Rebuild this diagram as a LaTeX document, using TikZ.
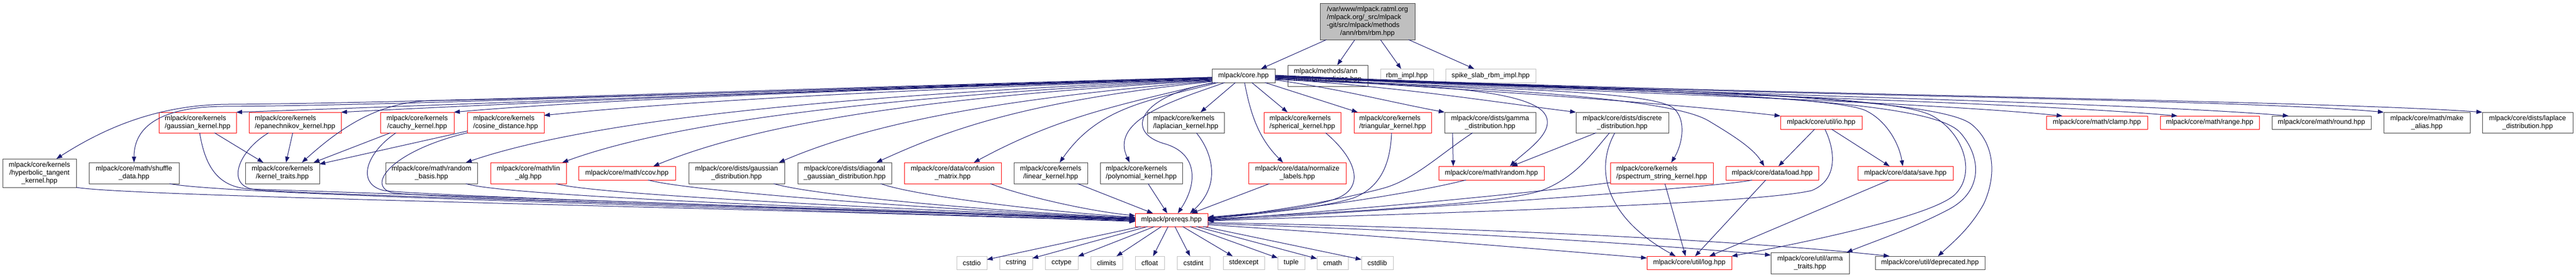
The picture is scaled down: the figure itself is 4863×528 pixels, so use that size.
\documentclass[tikz,border=0pt]{standalone}
\usepackage{fontspec}
\setmainfont{Liberation Sans}
\usetikzlibrary{arrows.meta}
\definecolor{edgec}{HTML}{191970}
\definecolor{nodeb}{HTML}{404040}
\definecolor{gry}{HTML}{BFBFBF}
\newcommand\twoL[2]{\begin{tabular}{@{}l@{}}#1\\\multicolumn{1}{@{}c@{}}{#2}\end{tabular}}
\newcommand\twoC[2]{\begin{tabular}{@{}c@{}}#1\\#2\end{tabular}}
\newcommand\mkbox[7]{\node[#1, minimum width={#5pt-#3pt}, minimum height={#6pt-#4pt}] (#2) at ({(#3+#5)/2},{(#4+#6)/2}) {#7};}
\begin{document}
\begin{tikzpicture}[x=1pt,y=-1pt,
  base/.style={rectangle, inner sep=0pt, outer sep=0pt, line width=1pt, font=\fontsize{13}{15}\selectfont, text=black},
  bk/.style={base, draw=nodeb},
  rd/.style={base, draw=red},
  gy/.style={base, draw=gry},
  gyf/.style={base, draw=nodeb, fill=gry},
  conn/.style={draw=edgec, line width=1pt, -{Triangle[length=11pt,width=8pt]}}]
\fill[white] (0,0) rectangle (4863,528);
\useasboundingbox (0,0) rectangle (4863,528);
% nodes
\mkbox{gyf}{rbm}{2492}{6}{2671}{75}{\begin{tabular}{@{}l@{}}/var/www/mlpack.ratml.org\\/mlpack.org/\_src/mlpack\\-git/src/mlpack/methods\\\multicolumn{1}{@{}c@{}}{/ann/rbm/rbm.hpp}\end{tabular}}
\mkbox{bk}{core}{2288}{130}{2407}{156}{mlpack/core.hpp}
\mkbox{bk}{pol}{2431}{123}{2582}{163}{\twoL{mlpack/methods/ann}{/rbm/rbm\_policies.hpp}}
\mkbox{gy}{impl}{2606}{130}{2706}{156}{rbm\_impl.hpp}
\mkbox{gy}{spike}{2729}{130}{2899}{156}{spike\_slab\_rbm\_impl.hpp}
% row 2
\mkbox{rd}{gk}{300}{212}{446}{251}{\twoL{mlpack/core/kernels}{/gaussian\_kernel.hpp}}
\mkbox{rd}{ep}{470}{212}{644}{251}{\twoL{mlpack/core/kernels}{/epanechnikov\_kernel.hpp}}
\mkbox{rd}{ca}{718}{212}{857}{251}{\twoL{mlpack/core/kernels}{/cauchy\_kernel.hpp}}
\mkbox{rd}{co}{882}{212}{1027}{251}{\twoL{mlpack/core/kernels}{/cosine\_distance.hpp}}
\mkbox{bk}{lap}{2166}{212}{2311}{251}{\twoL{mlpack/core/kernels}{/laplacian\_kernel.hpp}}
\mkbox{rd}{sph}{2386}{212}{2531}{251}{\twoL{mlpack/core/kernels}{/spherical\_kernel.hpp}}
\mkbox{rd}{tri}{2556}{212}{2702}{251}{\twoL{mlpack/core/kernels}{/triangular\_kernel.hpp}}
\mkbox{bk}{gam}{2727}{212}{2899}{251}{\twoC{mlpack/core/dists/gamma}{\_distribution.hpp}}
\mkbox{bk}{dis}{2975}{212}{3150}{251}{\twoC{mlpack/core/dists/discrete}{\_distribution.hpp}}
\mkbox{rd}{io}{3361}{219}{3515}{244}{mlpack/core/util/io.hpp}
\mkbox{rd}{clamp}{3863}{219}{4054}{244}{mlpack/core/math/clamp.hpp}
\mkbox{rd}{range}{4078}{219}{4265}{244}{mlpack/core/math/range.hpp}
\mkbox{bk}{round}{4289}{219}{4476}{244}{mlpack/core/math/round.hpp}
\mkbox{bk}{alias}{4500}{212}{4663}{251}{\twoC{mlpack/core/math/make}{\_alias.hpp}}
\mkbox{bk}{lapd}{4686}{212}{4857}{251}{\twoC{mlpack/core/dists/laplace}{\_distribution.hpp}}
% row 3
\mkbox{bk}{hyp}{5}{300}{144}{354}{\begin{tabular}{@{}c@{}}mlpack/core/kernels\\/hyperbolic\_tangent\\\_kernel.hpp\end{tabular}}
\mkbox{bk}{shuf}{168}{307}{338}{347}{\twoC{mlpack/core/math/shuffle}{\_data.hpp}}
\mkbox{bk}{kt}{463}{307}{603}{347}{\twoL{mlpack/core/kernels}{/kernel\_traits.hpp}}
\mkbox{bk}{rb}{728}{307}{901}{347}{\twoC{mlpack/core/math/random}{\_basis.hpp}}
\mkbox{rd}{lin}{926}{307}{1069}{347}{\twoC{mlpack/core/math/lin}{\_alg.hpp}}
\mkbox{rd}{ccov}{1092}{314}{1275}{340}{mlpack/core/math/ccov.hpp}
\mkbox{bk}{gd}{1300}{307}{1481}{347}{\twoC{mlpack/core/dists/gaussian}{\_distribution.hpp}}
\mkbox{bk}{dg}{1506}{307}{1683}{347}{\twoC{mlpack/core/dists/diagonal}{\_gaussian\_distribution.hpp}}
\mkbox{rd}{cm}{1707}{307}{1890}{347}{\twoC{mlpack/core/data/confusion}{\_matrix.hpp}}
\mkbox{bk}{lk}{1914}{307}{2053}{347}{\twoL{mlpack/core/kernels}{/linear\_kernel.hpp}}
\mkbox{bk}{pk}{2077}{307}{2232}{347}{\twoL{mlpack/core/kernels}{/polynomial\_kernel.hpp}}
\mkbox{rd}{nl}{2357}{307}{2541}{347}{\twoC{mlpack/core/data/normalize}{\_labels.hpp}}
\mkbox{rd}{rnd}{2716}{314}{2915}{340}{mlpack/core/math/random.hpp}
\mkbox{rd}{ps}{3040}{307}{3234}{347}{\twoL{mlpack/core/kernels}{/pspectrum\_string\_kernel.hpp}}
\mkbox{rd}{load}{3258}{314}{3433}{340}{mlpack/core/data/load.hpp}
\mkbox{rd}{save}{3507}{314}{3687}{340}{mlpack/core/data/save.hpp}
% row 4
\mkbox{rd}{pre}{2143}{403}{2280}{428}{mlpack/prereqs.hpp}
% row 5
\mkbox{gy}{cstdio}{1806}{484}{1863}{509}{cstdio}
\mkbox{gy}{cstring}{1887}{484}{1949}{509}{cstring}
\mkbox{gy}{cctype}{1973}{484}{2035}{509}{cctype}
\mkbox{gy}{climits}{2059}{484}{2119}{509}{climits}
\mkbox{gy}{cfloat}{2143}{484}{2198}{509}{cfloat}
\mkbox{gy}{cstdint}{2222}{484}{2284}{509}{cstdint}
\mkbox{gy}{stdexcept}{2309}{484}{2387}{509}{stdexcept}
\mkbox{gy}{tuple}{2412}{484}{2463}{509}{tuple}
\mkbox{gy}{cmath}{2486}{484}{2545}{509}{cmath}
\mkbox{gy}{cstdlib}{2570}{484}{2630}{509}{cstdlib}
\mkbox{rd}{log}{3109}{484}{3269}{509}{mlpack/core/util/log.hpp}
\mkbox{bk}{arma}{3343}{477}{3491}{517}{\twoC{mlpack/core/util/arma}{\_traits.hpp}}
\mkbox{bk}{dep}{3540}{484}{3747}{509}{mlpack/core/util/deprecated.hpp}
% edges from rbm
\draw[conn] (rbm) -- ([xshift=33pt]core.north);
\draw[conn] (rbm) -- ([xshift=18pt]pol.north);
\draw[conn] (rbm) -- ([xshift=-11pt]impl.north);
\draw[conn] (rbm) -- ([xshift=-31pt]spike.north);
% core to left
\draw[conn] ([yshift=-4pt]core.west) .. controls (1500,172) and (800,200) .. (gk.north east);
\draw[conn] ([yshift=-5pt]core.west) .. controls (1500,172) and (950,196) .. (ep.north east);
\draw[conn] ([yshift=-6pt]core.west) .. controls (1600,170) and (1100,190) .. (ca.north east);
\draw[conn] ([yshift=-7pt]core.west) .. controls (1650,170) and (1250,195) .. ([yshift=-6pt]co.north east);
\draw[conn] ([yshift=-3pt]core.west) .. controls (1400,170) and (800,195) .. (430,197) .. controls (300,198) and (200,240) .. ([xshift=32pt]hyp.north);
\draw[conn] ([yshift=-3pt]core.west) .. controls (1400,172) and (800,199) .. (420,201) .. controls (330,202) and (253,225) .. (shuf.north);
\draw[conn] ([yshift=-4pt]core.west) .. controls (1600,168) and (1000,188) .. (820,190) .. controls (720,191) and (650,235) .. ([xshift=37pt]kt.north);
\draw[conn] ([yshift=-7pt]core.west) .. controls (1700,175) and (1150,215) .. ([xshift=65pt]rb.north);
\draw[conn] ([yshift=-8pt]core.west) .. controls (1750,178) and (1300,220) .. ([xshift=64pt]lin.north);
\draw[conn] ([yshift=-9pt]core.west) .. controls (1800,180) and (1450,225) .. ([xshift=50pt]ccov.north);
\draw[conn] ([yshift=-10pt]core.west) .. controls (1900,185) and (1650,230) .. ([xshift=80pt]gd.north);
\draw[conn] ([yshift=-11pt]core.west) .. controls (1950,190) and (1800,240) .. ([xshift=60pt]dg.north);
\draw[conn] ([xshift=2pt]core.south west) .. controls (2100,200) and (1990,225) .. ([xshift=40pt]cm.north);
\draw[conn] ([xshift=11pt]core.south west) .. controls (2172,190) and (2075,200) .. ([xshift=17pt]lk.north);
\draw[conn] ([xshift=24pt]core.south west) .. controls (2226,187) and (2093,224) .. ([xshift=-22pt]pk.north);
\draw[conn] ([xshift=6pt]core.south west) .. controls (2150,180) and (2120,250) .. (2200,272) .. controls (2260,290) and (2262,345) .. ([xshift=12pt]pre.north);
\draw[conn] (core) -- ([xshift=28pt]lap.north);
\draw[conn] (core) -- ([xshift=-28pt]sph.north);
\draw[conn] ([xshift=2pt]core.south) .. controls (2361,218) and (2377,262) .. ([xshift=-27pt]nl.north);
\draw[conn] (core) -- ([xshift=-66pt]tri.north);
% core to right
\draw[conn] ([yshift=-8pt]core.east) .. controls (2530,168) and (2620,192) .. (gam.north west);
\draw[conn] ([yshift=-6pt]core.east) .. controls (2650,165) and (2800,190) .. (dis.north west);
\draw[conn] ([yshift=-7pt]core.east) .. controls (2600,160) and (2860,160) .. (2912,210) .. controls (2945,245) and (2880,285) .. ([xshift=35pt]rnd.north);
\draw[conn] ([yshift=-5pt]core.east) .. controls (2800,168) and (3120,170) .. (3160,205) .. controls (3185,228) and (3175,275) .. ([xshift=18pt]ps.north);
\draw[conn] ([yshift=-4pt]core.east) .. controls (2800,170) and (3150,195) .. (io.north west);
\draw[conn] ([yshift=-4pt]core.east) .. controls (2900,170) and (3160,190) .. (3225,228) .. controls (3270,255) and (3310,280) .. ([xshift=-15pt]load.north);
\draw[conn] ([yshift=-3pt]core.east) .. controls (3000,168) and (3450,180) .. (3520,208) .. controls (3560,226) and (3585,270) .. ([xshift=-5pt]save.north);
\draw[conn] ([yshift=-3pt]core.east) .. controls (3200,172) and (3580,180) .. (3650,220) .. controls (3710,255) and (3730,330) .. (3690,368) .. controls (3650,405) and (3450,450) .. (log.north east);
\draw[conn] ([yshift=-2pt]core.east) .. controls (3200,175) and (3640,185) .. (3700,250) .. controls (3740,295) and (3745,360) .. (3680,395) .. controls (3610,432) and (3540,455) .. ([xshift=-5pt]arma.north east);
\draw[conn] ([yshift=-2pt]core.east) .. controls (3200,170) and (3660,185) .. (3722,235) .. controls (3765,270) and (3770,330) .. (3745,385) .. controls (3720,430) and (3690,455) .. ([xshift=15pt]dep.north);
\draw[conn] ([yshift=-1pt]core.east) .. controls (3000,175) and (3600,190) .. ([xshift=-65pt]clamp.north);
\draw[conn] ([yshift=-1pt]core.east) .. controls (3100,176) and (3800,192) .. ([xshift=-61pt]range.north);
\draw[conn] (core.east) .. controls (3150,177) and (4000,192) .. ([xshift=-62pt]round.north);
\draw[conn] (core.east) .. controls (3200,180) and (4200,185) .. (alias.north west);
\draw[conn] ([yshift=1pt]core.east) .. controls (3200,178) and (4350,188) .. (lapd.north west);
% row 2 to kernel traits
\draw[conn] (gk) -- ([xshift=-36pt]kt.north);
\draw[conn] (ep) -- ([xshift=7pt]kt.north);
\draw[conn] (ca) -- ([xshift=59pt]kt.north);
\draw[conn] (co) -- ([yshift=-3pt]kt.north east);
% left nodes to prereqs
\draw[conn] (hyp.south east) .. controls (250,372) and (1400,392) .. ([yshift=-3pt]pre.west);
\draw[conn] ([xshift=67pt]shuf.south) .. controls (420,368) and (1400,392) .. ([yshift=-2pt]pre.west);
\draw[conn] ([xshift=4pt]gk.south) .. controls (388,320) and (415,353) .. (470,357) .. controls (1000,375) and (1600,395) .. ([yshift=-1pt]pre.west);
\draw[conn] ([xshift=-50pt]ep.south) .. controls (450,285) and (425,350) .. (480,358) .. controls (560,368) and (1600,395) .. (pre.west);
\draw[conn] ([xshift=-40pt]ca.south) .. controls (690,290) and (672,348) .. (725,360) .. controls (800,370) and (1600,396) .. ([yshift=1pt]pre.west);
\draw[conn] (co.south west) .. controls (740,285) and (690,350) .. (740,364) .. controls (820,375) and (1600,397) .. ([yshift=1pt]pre.west);
\draw[conn] ([xshift=65pt]rb.south) .. controls (950,370) and (1600,395) .. ([yshift=2pt]pre.west);
\draw[conn] ([xshift=52pt]lin.south) .. controls (1120,368) and (1700,395) .. ([yshift=2pt]pre.west);
\draw[conn] ([xshift=40pt]ccov.south) .. controls (1300,362) and (1800,398) .. ([yshift=3pt]pre.west);
\draw[conn] ([xshift=70pt]gd.south) .. controls (1530,368) and (1850,398) .. ([yshift=4pt]pre.west);
\draw[conn] ([xshift=68pt]dg.south) .. controls (1720,368) and (1950,398) .. ([yshift=5pt]pre.west);
\draw[conn] ([xshift=71pt]cm.south) .. controls (1930,370) and (2050,398) .. ([yshift=8pt]pre.west);
\draw[conn] (lk) -- ([xshift=-35pt]pre.north);
\draw[conn] (pk) -- ([xshift=-8pt]pre.north);
\draw[conn] ([xshift=20pt]lap.south) .. controls (2290,290) and (2305,350) .. ([xshift=35pt]pre.north);
\draw[conn] (nl) -- ([xshift=38pt]pre.north);
% right nodes to prereqs
\draw[conn] ([xshift=44pt]sph.south) .. controls (2560,300) and (2575,350) .. (2530,372) .. controls (2480,395) and (2340,405) .. ([yshift=5pt]pre.east);
\draw[conn] ([xshift=-2pt]tri.south) .. controls (2625,300) and (2612,352) .. (2555,374) .. controls (2490,395) and (2350,406) .. ([yshift=4pt]pre.east);
\draw[conn] ([xshift=-33pt]gam.south) .. controls (2720,290) and (2670,340) .. (2610,356) .. controls (2500,385) and (2360,405) .. ([yshift=3pt]pre.east);
\draw[conn] ([xshift=-48pt]rnd.south) .. controls (2650,370) and (2400,403) .. ([yshift=2pt]pre.east);
\draw[conn] ([xshift=-24pt]dis.south) .. controls (3005,290) and (2975,335) .. (2910,360) .. controls (2820,390) and (2420,405) .. ([yshift=1pt]pre.east);
\draw[conn] ([yshift=2pt]ps.south west) .. controls (2850,370) and (2450,405) .. (pre.east);
\draw[conn] ([xshift=-38pt]load.south) .. controls (3270,352) and (2600,400) .. ([yshift=-1pt]pre.east);
\draw[conn] ([xshift=7pt]io.south) .. controls (3465,285) and (3470,340) .. (3420,360) .. controls (3300,388) and (2600,405) .. ([yshift=-2pt]pre.east);
% misc
\draw[conn] ([xshift=-71pt]gam.south) -- ([xshift=-72pt]rnd.north);
\draw[conn] (dis) -- ([xshift=38pt]rnd.north);
\draw[conn] ([xshift=-14pt]dis.south) .. controls (3010,320) and (3030,410) .. ([xshift=-26pt]log.north);
\draw[conn] ([xshift=6pt]ps.south) -- ([xshift=-7pt]log.north);
\draw[conn] ([xshift=-12pt]load.south) -- ([xshift=11pt]log.north);
\draw[conn] ([xshift=-30pt]save.south) -- ([xshift=38pt]log.north);
\draw[conn] (io) -- ([xshift=12pt]load.north);
\draw[conn] (io) -- ([xshift=-30pt]save.north);
% prereqs to headers
\foreach \hname in {cstdio,cstring,cctype,climits,cfloat,cstdint,stdexcept,tuple,cmath,cstdlib}
  \draw[conn] (pre) -- (\hname);
\draw[conn] ([yshift=-9pt]pre.east) .. controls (2600,445) and (2900,470) .. ([yshift=9pt]log.west);
\draw[conn] ([yshift=-7pt]pre.east) .. controls (2700,435) and (3100,460) .. ([yshift=15pt]arma.west);
\draw[conn] ([yshift=-5pt]pre.east) .. controls (2800,430) and (3300,455) .. ([xshift=27pt]dep.north west);
\end{tikzpicture}
\end{document}
